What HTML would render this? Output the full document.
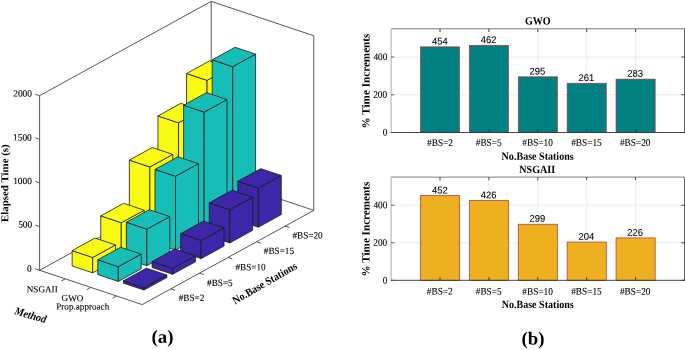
<!DOCTYPE html>
<html><head><meta charset="utf-8"><style>
html,body{margin:0;padding:0;background:#fff;}
body{width:685px;height:350px;overflow:hidden;}
svg{display:block;}
</style></head><body>
<svg width="685" height="350" viewBox="0 0 685 350" style="will-change:transform">
<rect width="685" height="350" fill="#fff"/>
<line x1="39.60" y1="270.25" x2="39.60" y2="95.65" stroke="#3a3a3a" stroke-width="0.85"/>
<line x1="211.20" y1="176.00" x2="211.20" y2="1.40" stroke="#3a3a3a" stroke-width="0.85"/>
<line x1="313.80" y1="210.35" x2="313.80" y2="35.75" stroke="#3a3a3a" stroke-width="0.85"/>
<line x1="39.60" y1="95.65" x2="211.20" y2="1.40" stroke="#3a3a3a" stroke-width="0.85"/>
<line x1="211.20" y1="1.40" x2="313.80" y2="35.75" stroke="#3a3a3a" stroke-width="0.85"/>
<line x1="39.60" y1="270.25" x2="142.20" y2="304.60" stroke="#3a3a3a" stroke-width="0.85"/>
<line x1="142.20" y1="304.60" x2="313.80" y2="210.35" stroke="#3a3a3a" stroke-width="0.85"/>
<line x1="211.20" y1="176.00" x2="313.80" y2="210.35" stroke="#3a3a3a" stroke-width="0.85"/>
<line x1="39.60" y1="270.25" x2="211.20" y2="176.00" stroke="#3a3a3a" stroke-width="0.85"/>
<line x1="39.60" y1="270.25" x2="35.24" y2="268.79" stroke="#3a3a3a" stroke-width="0.85"/>
<line x1="39.60" y1="226.60" x2="35.24" y2="225.14" stroke="#3a3a3a" stroke-width="0.85"/>
<line x1="39.60" y1="182.95" x2="35.24" y2="181.49" stroke="#3a3a3a" stroke-width="0.85"/>
<line x1="39.60" y1="139.30" x2="35.24" y2="137.84" stroke="#3a3a3a" stroke-width="0.85"/>
<line x1="39.60" y1="95.65" x2="35.24" y2="94.19" stroke="#3a3a3a" stroke-width="0.85"/>
<line x1="65.25" y1="278.84" x2="61.22" y2="281.05" stroke="#3a3a3a" stroke-width="0.85"/>
<line x1="90.90" y1="287.43" x2="86.87" y2="289.64" stroke="#3a3a3a" stroke-width="0.85"/>
<line x1="116.55" y1="296.01" x2="112.52" y2="298.23" stroke="#3a3a3a" stroke-width="0.85"/>
<line x1="170.80" y1="288.89" x2="175.16" y2="290.35" stroke="#3a3a3a" stroke-width="0.85"/>
<line x1="199.40" y1="273.18" x2="203.76" y2="274.64" stroke="#3a3a3a" stroke-width="0.85"/>
<line x1="228.00" y1="257.48" x2="232.36" y2="258.94" stroke="#3a3a3a" stroke-width="0.85"/>
<line x1="256.60" y1="241.77" x2="260.96" y2="243.23" stroke="#3a3a3a" stroke-width="0.85"/>
<line x1="285.20" y1="226.06" x2="289.56" y2="227.52" stroke="#3a3a3a" stroke-width="0.85"/>
<polygon points="186.55,203.14 207.07,210.01 207.07,80.37 186.55,73.50" fill="#f9fb15" stroke="#1a1a1a" stroke-width="0.80" stroke-linejoin="round"/>
<polygon points="207.07,210.01 229.95,197.45 229.95,67.81 207.07,80.37" fill="#f9fb15" stroke="#1a1a1a" stroke-width="0.80" stroke-linejoin="round"/>
<polygon points="186.55,73.50 207.07,80.37 229.95,67.81 209.43,60.94" fill="#f9fb15" stroke="#1a1a1a" stroke-width="0.80" stroke-linejoin="round"/>
<polygon points="212.20,211.73 232.72,218.60 232.72,66.70 212.20,59.83" fill="#17bdb7" stroke="#1a1a1a" stroke-width="0.80" stroke-linejoin="round"/>
<polygon points="232.72,218.60 255.60,206.04 255.60,54.13 232.72,66.70" fill="#17bdb7" stroke="#1a1a1a" stroke-width="0.80" stroke-linejoin="round"/>
<polygon points="212.20,59.83 232.72,66.70 255.60,54.13 235.08,47.26" fill="#17bdb7" stroke="#1a1a1a" stroke-width="0.80" stroke-linejoin="round"/>
<polygon points="157.95,218.85 178.47,225.72 178.47,122.80 157.95,115.93" fill="#f9fb15" stroke="#1a1a1a" stroke-width="0.80" stroke-linejoin="round"/>
<polygon points="178.47,225.72 201.35,213.16 201.35,110.23 178.47,122.80" fill="#f9fb15" stroke="#1a1a1a" stroke-width="0.80" stroke-linejoin="round"/>
<polygon points="157.95,115.93 178.47,122.80 201.35,110.23 180.83,103.36" fill="#f9fb15" stroke="#1a1a1a" stroke-width="0.80" stroke-linejoin="round"/>
<polygon points="237.85,220.32 258.37,227.19 258.37,188.08 237.85,181.21" fill="#3e26a8" stroke="#1a1a1a" stroke-width="0.80" stroke-linejoin="round"/>
<polygon points="258.37,227.19 281.25,214.62 281.25,175.51 258.37,188.08" fill="#3e26a8" stroke="#1a1a1a" stroke-width="0.80" stroke-linejoin="round"/>
<polygon points="237.85,181.21 258.37,188.08 281.25,175.51 260.73,168.64" fill="#3e26a8" stroke="#1a1a1a" stroke-width="0.80" stroke-linejoin="round"/>
<polygon points="183.60,227.44 204.12,234.31 204.12,112.09 183.60,105.22" fill="#17bdb7" stroke="#1a1a1a" stroke-width="0.80" stroke-linejoin="round"/>
<polygon points="204.12,234.31 227.00,221.74 227.00,99.52 204.12,112.09" fill="#17bdb7" stroke="#1a1a1a" stroke-width="0.80" stroke-linejoin="round"/>
<polygon points="183.60,105.22 204.12,112.09 227.00,99.52 206.48,92.65" fill="#17bdb7" stroke="#1a1a1a" stroke-width="0.80" stroke-linejoin="round"/>
<polygon points="129.35,234.56 149.87,241.43 149.87,166.96 129.35,160.09" fill="#f9fb15" stroke="#1a1a1a" stroke-width="0.80" stroke-linejoin="round"/>
<polygon points="149.87,241.43 172.75,228.86 172.75,154.40 149.87,166.96" fill="#f9fb15" stroke="#1a1a1a" stroke-width="0.80" stroke-linejoin="round"/>
<polygon points="129.35,160.09 149.87,166.96 172.75,154.40 152.23,147.53" fill="#f9fb15" stroke="#1a1a1a" stroke-width="0.80" stroke-linejoin="round"/>
<polygon points="209.25,236.03 229.77,242.90 229.77,209.72 209.25,202.85" fill="#3e26a8" stroke="#1a1a1a" stroke-width="0.80" stroke-linejoin="round"/>
<polygon points="229.77,242.90 252.65,230.33 252.65,197.16 229.77,209.72" fill="#3e26a8" stroke="#1a1a1a" stroke-width="0.80" stroke-linejoin="round"/>
<polygon points="209.25,202.85 229.77,209.72 252.65,197.16 232.13,190.29" fill="#3e26a8" stroke="#1a1a1a" stroke-width="0.80" stroke-linejoin="round"/>
<polygon points="155.00,243.15 175.52,250.02 175.52,176.25 155.00,169.38" fill="#17bdb7" stroke="#1a1a1a" stroke-width="0.80" stroke-linejoin="round"/>
<polygon points="175.52,250.02 198.40,237.45 198.40,163.68 175.52,176.25" fill="#17bdb7" stroke="#1a1a1a" stroke-width="0.80" stroke-linejoin="round"/>
<polygon points="155.00,169.38 175.52,176.25 198.40,163.68 177.88,156.81" fill="#17bdb7" stroke="#1a1a1a" stroke-width="0.80" stroke-linejoin="round"/>
<polygon points="100.75,250.27 121.27,257.14 121.27,222.74 100.75,215.87" fill="#f9fb15" stroke="#1a1a1a" stroke-width="0.80" stroke-linejoin="round"/>
<polygon points="121.27,257.14 144.15,244.57 144.15,210.18 121.27,222.74" fill="#f9fb15" stroke="#1a1a1a" stroke-width="0.80" stroke-linejoin="round"/>
<polygon points="100.75,215.87 121.27,222.74 144.15,210.18 123.63,203.31" fill="#f9fb15" stroke="#1a1a1a" stroke-width="0.80" stroke-linejoin="round"/>
<polygon points="180.65,251.74 201.17,258.61 201.17,240.53 180.65,233.66" fill="#3e26a8" stroke="#1a1a1a" stroke-width="0.80" stroke-linejoin="round"/>
<polygon points="201.17,258.61 224.05,246.04 224.05,227.97 201.17,240.53" fill="#3e26a8" stroke="#1a1a1a" stroke-width="0.80" stroke-linejoin="round"/>
<polygon points="180.65,233.66 201.17,240.53 224.05,227.97 203.53,221.10" fill="#3e26a8" stroke="#1a1a1a" stroke-width="0.80" stroke-linejoin="round"/>
<polygon points="126.40,258.86 146.92,265.73 146.92,229.15 126.40,222.28" fill="#17bdb7" stroke="#1a1a1a" stroke-width="0.80" stroke-linejoin="round"/>
<polygon points="146.92,265.73 169.80,253.16 169.80,216.58 146.92,229.15" fill="#17bdb7" stroke="#1a1a1a" stroke-width="0.80" stroke-linejoin="round"/>
<polygon points="126.40,222.28 146.92,229.15 169.80,216.58 149.28,209.71" fill="#17bdb7" stroke="#1a1a1a" stroke-width="0.80" stroke-linejoin="round"/>
<polygon points="72.15,265.98 92.67,272.85 92.67,257.48 72.15,250.61" fill="#f9fb15" stroke="#1a1a1a" stroke-width="0.80" stroke-linejoin="round"/>
<polygon points="92.67,272.85 115.55,260.28 115.55,244.92 92.67,257.48" fill="#f9fb15" stroke="#1a1a1a" stroke-width="0.80" stroke-linejoin="round"/>
<polygon points="72.15,250.61 92.67,257.48 115.55,244.92 95.03,238.05" fill="#f9fb15" stroke="#1a1a1a" stroke-width="0.80" stroke-linejoin="round"/>
<polygon points="152.05,267.44 172.57,274.31 172.57,268.38 152.05,261.51" fill="#3e26a8" stroke="#1a1a1a" stroke-width="0.80" stroke-linejoin="round"/>
<polygon points="172.57,274.31 195.45,261.75 195.45,255.81 172.57,268.38" fill="#3e26a8" stroke="#1a1a1a" stroke-width="0.80" stroke-linejoin="round"/>
<polygon points="152.05,261.51 172.57,268.38 195.45,255.81 174.93,248.94" fill="#3e26a8" stroke="#1a1a1a" stroke-width="0.80" stroke-linejoin="round"/>
<polygon points="97.80,274.56 118.32,281.44 118.32,266.68 97.80,259.81" fill="#17bdb7" stroke="#1a1a1a" stroke-width="0.80" stroke-linejoin="round"/>
<polygon points="118.32,281.44 141.20,268.87 141.20,254.11 118.32,266.68" fill="#17bdb7" stroke="#1a1a1a" stroke-width="0.80" stroke-linejoin="round"/>
<polygon points="97.80,259.81 118.32,266.68 141.20,254.11 120.68,247.24" fill="#17bdb7" stroke="#1a1a1a" stroke-width="0.80" stroke-linejoin="round"/>
<polygon points="123.45,283.15 143.97,290.02 143.97,287.58 123.45,280.71" fill="#3e26a8" stroke="#1a1a1a" stroke-width="0.80" stroke-linejoin="round"/>
<polygon points="143.97,290.02 166.85,277.46 166.85,275.01 143.97,287.58" fill="#3e26a8" stroke="#1a1a1a" stroke-width="0.80" stroke-linejoin="round"/>
<polygon points="123.45,280.71 143.97,287.58 166.85,275.01 146.33,268.14" fill="#3e26a8" stroke="#1a1a1a" stroke-width="0.80" stroke-linejoin="round"/>
<line x1="440.00" y1="28.80" x2="440.00" y2="132.50" stroke="#ebebeb" stroke-width="0.90"/>
<line x1="488.90" y1="28.80" x2="488.90" y2="132.50" stroke="#ebebeb" stroke-width="0.90"/>
<line x1="537.80" y1="28.80" x2="537.80" y2="132.50" stroke="#ebebeb" stroke-width="0.90"/>
<line x1="586.70" y1="28.80" x2="586.70" y2="132.50" stroke="#ebebeb" stroke-width="0.90"/>
<line x1="635.60" y1="28.80" x2="635.60" y2="132.50" stroke="#ebebeb" stroke-width="0.90"/>
<line x1="391.10" y1="94.76" x2="684.50" y2="94.76" stroke="#ebebeb" stroke-width="0.90"/>
<line x1="391.10" y1="57.02" x2="684.50" y2="57.02" stroke="#ebebeb" stroke-width="0.90"/>
<rect x="420.44" y="46.83" width="39.12" height="85.67" fill="#008080" stroke="#a8324a" stroke-width="0.7"/>
<rect x="469.34" y="45.32" width="39.12" height="87.18" fill="#008080" stroke="#a8324a" stroke-width="0.7"/>
<rect x="518.24" y="76.83" width="39.12" height="55.67" fill="#008080" stroke="#a8324a" stroke-width="0.7"/>
<rect x="567.14" y="83.25" width="39.12" height="49.25" fill="#008080" stroke="#a8324a" stroke-width="0.7"/>
<rect x="616.04" y="79.10" width="39.12" height="53.40" fill="#008080" stroke="#a8324a" stroke-width="0.7"/>
<line x1="391.10" y1="28.80" x2="684.50" y2="28.80" stroke="#6e6e6e" stroke-width="0.90"/>
<line x1="684.50" y1="28.80" x2="684.50" y2="132.50" stroke="#505050" stroke-width="0.90"/>
<line x1="391.10" y1="28.80" x2="391.10" y2="132.50" stroke="#a0a0a0" stroke-width="0.90"/>
<line x1="390.70" y1="132.50" x2="684.90" y2="132.50" stroke="#333333" stroke-width="0.90"/>
<line x1="440.00" y1="132.50" x2="440.00" y2="129.30" stroke="#333" stroke-width="0.90"/>
<line x1="440.00" y1="28.80" x2="440.00" y2="32.00" stroke="#333" stroke-width="0.90"/>
<line x1="488.90" y1="132.50" x2="488.90" y2="129.30" stroke="#333" stroke-width="0.90"/>
<line x1="488.90" y1="28.80" x2="488.90" y2="32.00" stroke="#333" stroke-width="0.90"/>
<line x1="537.80" y1="132.50" x2="537.80" y2="129.30" stroke="#333" stroke-width="0.90"/>
<line x1="537.80" y1="28.80" x2="537.80" y2="32.00" stroke="#333" stroke-width="0.90"/>
<line x1="586.70" y1="132.50" x2="586.70" y2="129.30" stroke="#333" stroke-width="0.90"/>
<line x1="586.70" y1="28.80" x2="586.70" y2="32.00" stroke="#333" stroke-width="0.90"/>
<line x1="635.60" y1="132.50" x2="635.60" y2="129.30" stroke="#333" stroke-width="0.90"/>
<line x1="635.60" y1="28.80" x2="635.60" y2="32.00" stroke="#333" stroke-width="0.90"/>
<line x1="391.10" y1="132.50" x2="394.30" y2="132.50" stroke="#555" stroke-width="0.90"/>
<line x1="684.50" y1="132.50" x2="681.30" y2="132.50" stroke="#333" stroke-width="0.90"/>
<line x1="391.10" y1="94.76" x2="394.30" y2="94.76" stroke="#555" stroke-width="0.90"/>
<line x1="684.50" y1="94.76" x2="681.30" y2="94.76" stroke="#333" stroke-width="0.90"/>
<line x1="391.10" y1="57.02" x2="394.30" y2="57.02" stroke="#555" stroke-width="0.90"/>
<line x1="684.50" y1="57.02" x2="681.30" y2="57.02" stroke="#333" stroke-width="0.90"/>
<line x1="440.00" y1="177.10" x2="440.00" y2="280.30" stroke="#ebebeb" stroke-width="0.90"/>
<line x1="488.90" y1="177.10" x2="488.90" y2="280.30" stroke="#ebebeb" stroke-width="0.90"/>
<line x1="537.80" y1="177.10" x2="537.80" y2="280.30" stroke="#ebebeb" stroke-width="0.90"/>
<line x1="586.70" y1="177.10" x2="586.70" y2="280.30" stroke="#ebebeb" stroke-width="0.90"/>
<line x1="635.60" y1="177.10" x2="635.60" y2="280.30" stroke="#ebebeb" stroke-width="0.90"/>
<line x1="391.10" y1="242.78" x2="684.50" y2="242.78" stroke="#ebebeb" stroke-width="0.90"/>
<line x1="391.10" y1="205.26" x2="684.50" y2="205.26" stroke="#ebebeb" stroke-width="0.90"/>
<rect x="420.44" y="195.50" width="39.12" height="84.80" fill="#edb120" stroke="#b82c4c" stroke-width="0.7"/>
<rect x="469.34" y="200.38" width="39.12" height="79.92" fill="#edb120" stroke="#b82c4c" stroke-width="0.7"/>
<rect x="518.24" y="224.21" width="39.12" height="56.09" fill="#edb120" stroke="#b82c4c" stroke-width="0.7"/>
<rect x="567.14" y="242.03" width="39.12" height="38.27" fill="#edb120" stroke="#b82c4c" stroke-width="0.7"/>
<rect x="616.04" y="237.90" width="39.12" height="42.40" fill="#edb120" stroke="#b82c4c" stroke-width="0.7"/>
<line x1="391.10" y1="177.10" x2="684.50" y2="177.10" stroke="#6e6e6e" stroke-width="0.90"/>
<line x1="684.50" y1="177.10" x2="684.50" y2="280.30" stroke="#505050" stroke-width="0.90"/>
<line x1="391.10" y1="177.10" x2="391.10" y2="280.30" stroke="#a0a0a0" stroke-width="0.90"/>
<line x1="390.70" y1="280.30" x2="684.90" y2="280.30" stroke="#333333" stroke-width="0.90"/>
<line x1="440.00" y1="280.30" x2="440.00" y2="277.10" stroke="#333" stroke-width="0.90"/>
<line x1="440.00" y1="177.10" x2="440.00" y2="180.30" stroke="#333" stroke-width="0.90"/>
<line x1="488.90" y1="280.30" x2="488.90" y2="277.10" stroke="#333" stroke-width="0.90"/>
<line x1="488.90" y1="177.10" x2="488.90" y2="180.30" stroke="#333" stroke-width="0.90"/>
<line x1="537.80" y1="280.30" x2="537.80" y2="277.10" stroke="#333" stroke-width="0.90"/>
<line x1="537.80" y1="177.10" x2="537.80" y2="180.30" stroke="#333" stroke-width="0.90"/>
<line x1="586.70" y1="280.30" x2="586.70" y2="277.10" stroke="#333" stroke-width="0.90"/>
<line x1="586.70" y1="177.10" x2="586.70" y2="180.30" stroke="#333" stroke-width="0.90"/>
<line x1="635.60" y1="280.30" x2="635.60" y2="277.10" stroke="#333" stroke-width="0.90"/>
<line x1="635.60" y1="177.10" x2="635.60" y2="180.30" stroke="#333" stroke-width="0.90"/>
<line x1="391.10" y1="280.30" x2="394.30" y2="280.30" stroke="#555" stroke-width="0.90"/>
<line x1="684.50" y1="280.30" x2="681.30" y2="280.30" stroke="#333" stroke-width="0.90"/>
<line x1="391.10" y1="242.78" x2="394.30" y2="242.78" stroke="#555" stroke-width="0.90"/>
<line x1="684.50" y1="242.78" x2="681.30" y2="242.78" stroke="#333" stroke-width="0.90"/>
<line x1="391.10" y1="205.26" x2="394.30" y2="205.26" stroke="#555" stroke-width="0.90"/>
<line x1="684.50" y1="205.26" x2="681.30" y2="205.26" stroke="#333" stroke-width="0.90"/>
<text transform="translate(29.37 271.57) rotate(0.05) scale(0.9994 1)" style="font-family:'Liberation Serif',serif;font-size:9.39px;fill:#000;stroke:#000;stroke-width:0.10px" text-anchor="middle">0</text>
<text transform="translate(25.17 227.41) rotate(0.05) scale(0.9994 1)" style="font-family:'Liberation Serif',serif;font-size:9.39px;fill:#000;stroke:#000;stroke-width:0.10px" text-anchor="middle">500</text>
<text transform="translate(22.52 183.95) rotate(0.05) scale(0.9994 1)" style="font-family:'Liberation Serif',serif;font-size:9.39px;fill:#000;stroke:#000;stroke-width:0.10px" text-anchor="middle">1000</text>
<text transform="translate(22.43 140.38) rotate(0.05) scale(0.9994 1)" style="font-family:'Liberation Serif',serif;font-size:9.39px;fill:#000;stroke:#000;stroke-width:0.10px" text-anchor="middle">1500</text>
<text transform="translate(22.58 96.54) rotate(0.05) scale(0.9994 1)" style="font-family:'Liberation Serif',serif;font-size:9.39px;fill:#000;stroke:#000;stroke-width:0.10px" text-anchor="middle">2000</text>
<text transform="translate(42.20 292.29) rotate(0.05) scale(1.0058 1)" style="font-family:'Liberation Serif',serif;font-size:9.10px;fill:#000;stroke:#000;stroke-width:0.10px" text-anchor="middle">NSGAII</text>
<text transform="translate(72.53 301.13) rotate(0.05) scale(1.0058 1)" style="font-family:'Liberation Serif',serif;font-size:9.10px;fill:#000;stroke:#000;stroke-width:0.10px" text-anchor="middle">GWO</text>
<text transform="translate(82.74 309.57) rotate(0.05) scale(1.0058 1)" style="font-family:'Liberation Serif',serif;font-size:9.10px;fill:#000;stroke:#000;stroke-width:0.10px" text-anchor="middle">Prop.approach</text>
<text transform="translate(191.49 300.93) rotate(0.05) scale(0.9604 1)" style="font-family:'Liberation Serif',serif;font-size:9.57px;fill:#000;stroke:#000;stroke-width:0.10px" text-anchor="middle">#BS=2</text>
<text transform="translate(219.89 285.97) rotate(0.05) scale(0.9604 1)" style="font-family:'Liberation Serif',serif;font-size:9.57px;fill:#000;stroke:#000;stroke-width:0.10px" text-anchor="middle">#BS=5</text>
<text transform="translate(250.62 270.14) rotate(0.05) scale(0.9604 1)" style="font-family:'Liberation Serif',serif;font-size:9.57px;fill:#000;stroke:#000;stroke-width:0.10px" text-anchor="middle">#BS=10</text>
<text transform="translate(278.91 254.06) rotate(0.05) scale(0.9604 1)" style="font-family:'Liberation Serif',serif;font-size:9.57px;fill:#000;stroke:#000;stroke-width:0.10px" text-anchor="middle">#BS=15</text>
<text transform="translate(307.56 238.59) rotate(0.05) scale(0.9604 1)" style="font-family:'Liberation Serif',serif;font-size:9.57px;fill:#000;stroke:#000;stroke-width:0.10px" text-anchor="middle">#BS=20</text>
<text transform="translate(8.24 183.18) rotate(-89.95) scale(1.0515 1)" style="font-family:'Liberation Serif',serif;font-weight:bold;font-size:10.40px;fill:#000" text-anchor="middle">Elapsed Time (s)</text>
<text transform="translate(29.57 318.60) rotate(16.00) scale(0.9200 1)" style="font-family:'Liberation Serif',serif;font-weight:bold;font-style:italic;font-size:11.18px;fill:#000" text-anchor="middle">Method</text>
<text transform="translate(266.47 286.23) rotate(-30.00) scale(0.9200 1)" style="font-family:'Liberation Serif',serif;font-weight:bold;font-size:11.02px;fill:#000" text-anchor="middle">No.Base Stations</text>
<text transform="translate(162.53 342.79) rotate(0.05) scale(1.0320 1)" style="font-family:'Liberation Serif',serif;font-weight:bold;font-size:18.30px;fill:#000" text-anchor="middle">(a)</text>
<text transform="translate(532.95 344.42) rotate(0.05) scale(1.0320 1)" style="font-family:'Liberation Serif',serif;font-weight:bold;font-size:18.30px;fill:#000" text-anchor="middle">(b)</text>
<text transform="translate(537.77 24.58) rotate(0.05) scale(0.9158 1)" style="font-family:'Liberation Serif',serif;font-weight:bold;font-size:11.00px;fill:#000" text-anchor="middle">GWO</text>
<text transform="translate(537.65 159.85) rotate(0.05) scale(0.9158 1)" style="font-family:'Liberation Serif',serif;font-weight:bold;font-size:11.00px;fill:#000" text-anchor="middle">No.Base Stations</text>
<text transform="translate(369.52 81.05) rotate(-89.95) scale(1.0142 1)" style="font-family:'Liberation Serif',serif;font-weight:bold;font-size:11.02px;fill:#000" text-anchor="middle">% Time Increments</text>
<text transform="translate(385.00 135.58) rotate(0.05) scale(0.9392 1)" style="font-family:'Liberation Serif',serif;font-size:9.95px;fill:#000;stroke:#000;stroke-width:0.10px" text-anchor="middle">0</text>
<text transform="translate(380.20 97.66) rotate(0.05) scale(0.9392 1)" style="font-family:'Liberation Serif',serif;font-size:9.95px;fill:#000;stroke:#000;stroke-width:0.10px" text-anchor="middle">200</text>
<text transform="translate(380.41 59.99) rotate(0.05) scale(0.9392 1)" style="font-family:'Liberation Serif',serif;font-size:9.95px;fill:#000;stroke:#000;stroke-width:0.10px" text-anchor="middle">400</text>
<text transform="translate(440.06 145.97) rotate(0.05) scale(0.9307 1)" style="font-family:'Liberation Serif',serif;font-size:9.98px;fill:#000;stroke:#000;stroke-width:0.10px" text-anchor="middle">#BS=2</text>
<text transform="translate(488.72 145.87) rotate(0.05) scale(0.9307 1)" style="font-family:'Liberation Serif',serif;font-size:9.98px;fill:#000;stroke:#000;stroke-width:0.10px" text-anchor="middle">#BS=5</text>
<text transform="translate(537.57 145.79) rotate(0.05) scale(0.9307 1)" style="font-family:'Liberation Serif',serif;font-size:9.98px;fill:#000;stroke:#000;stroke-width:0.10px" text-anchor="middle">#BS=10</text>
<text transform="translate(586.43 145.76) rotate(0.05) scale(0.9307 1)" style="font-family:'Liberation Serif',serif;font-size:9.98px;fill:#000;stroke:#000;stroke-width:0.10px" text-anchor="middle">#BS=15</text>
<text transform="translate(635.24 145.80) rotate(0.05) scale(0.9307 1)" style="font-family:'Liberation Serif',serif;font-size:9.98px;fill:#000;stroke:#000;stroke-width:0.10px" text-anchor="middle">#BS=20</text>
<text transform="translate(439.77 44.56) rotate(0.05) scale(0.9702 1)" style="font-family:'Liberation Sans',sans-serif;font-size:9.75px;fill:#000;stroke:#000;stroke-width:0.08px" text-anchor="middle">454</text>
<text transform="translate(488.68 42.93) rotate(0.05) scale(0.9702 1)" style="font-family:'Liberation Sans',sans-serif;font-size:9.75px;fill:#000;stroke:#000;stroke-width:0.08px" text-anchor="middle">462</text>
<text transform="translate(537.34 74.51) rotate(0.05) scale(0.9702 1)" style="font-family:'Liberation Sans',sans-serif;font-size:9.75px;fill:#000;stroke:#000;stroke-width:0.08px" text-anchor="middle">295</text>
<text transform="translate(586.26 80.89) rotate(0.05) scale(0.9702 1)" style="font-family:'Liberation Sans',sans-serif;font-size:9.75px;fill:#000;stroke:#000;stroke-width:0.08px" text-anchor="middle">261</text>
<text transform="translate(635.21 76.66) rotate(0.05) scale(0.9702 1)" style="font-family:'Liberation Sans',sans-serif;font-size:9.75px;fill:#000;stroke:#000;stroke-width:0.08px" text-anchor="middle">283</text>
<text transform="translate(537.24 172.97) rotate(0.05) scale(0.9158 1)" style="font-family:'Liberation Serif',serif;font-weight:bold;font-size:11.00px;fill:#000" text-anchor="middle">NSGAII</text>
<text transform="translate(537.67 308.06) rotate(0.05) scale(0.9158 1)" style="font-family:'Liberation Serif',serif;font-weight:bold;font-size:11.00px;fill:#000" text-anchor="middle">No.Base Stations</text>
<text transform="translate(369.48 229.09) rotate(-89.95) scale(1.0142 1)" style="font-family:'Liberation Serif',serif;font-weight:bold;font-size:11.02px;fill:#000" text-anchor="middle">% Time Increments</text>
<text transform="translate(385.02 283.38) rotate(0.05) scale(0.9392 1)" style="font-family:'Liberation Serif',serif;font-size:9.95px;fill:#000;stroke:#000;stroke-width:0.10px" text-anchor="middle">0</text>
<text transform="translate(380.22 245.67) rotate(0.05) scale(0.9392 1)" style="font-family:'Liberation Serif',serif;font-size:9.95px;fill:#000;stroke:#000;stroke-width:0.10px" text-anchor="middle">200</text>
<text transform="translate(380.39 208.29) rotate(0.05) scale(0.9392 1)" style="font-family:'Liberation Serif',serif;font-size:9.95px;fill:#000;stroke:#000;stroke-width:0.10px" text-anchor="middle">400</text>
<text transform="translate(439.74 294.54) rotate(0.05) scale(0.9307 1)" style="font-family:'Liberation Serif',serif;font-size:9.98px;fill:#000;stroke:#000;stroke-width:0.10px" text-anchor="middle">#BS=2</text>
<text transform="translate(488.69 294.63) rotate(0.05) scale(0.9307 1)" style="font-family:'Liberation Serif',serif;font-size:9.98px;fill:#000;stroke:#000;stroke-width:0.10px" text-anchor="middle">#BS=5</text>
<text transform="translate(537.61 294.68) rotate(0.05) scale(0.9307 1)" style="font-family:'Liberation Serif',serif;font-size:9.98px;fill:#000;stroke:#000;stroke-width:0.10px" text-anchor="middle">#BS=10</text>
<text transform="translate(586.47 294.52) rotate(0.05) scale(0.9307 1)" style="font-family:'Liberation Serif',serif;font-size:9.98px;fill:#000;stroke:#000;stroke-width:0.10px" text-anchor="middle">#BS=15</text>
<text transform="translate(635.24 294.63) rotate(0.05) scale(0.9307 1)" style="font-family:'Liberation Serif',serif;font-size:9.98px;fill:#000;stroke:#000;stroke-width:0.10px" text-anchor="middle">#BS=20</text>
<text transform="translate(439.77 193.40) rotate(0.05) scale(0.9702 1)" style="font-family:'Liberation Sans',sans-serif;font-size:9.75px;fill:#000;stroke:#000;stroke-width:0.08px" text-anchor="middle">452</text>
<text transform="translate(488.56 198.18) rotate(0.05) scale(0.9702 1)" style="font-family:'Liberation Sans',sans-serif;font-size:9.75px;fill:#000;stroke:#000;stroke-width:0.08px" text-anchor="middle">426</text>
<text transform="translate(537.45 221.82) rotate(0.05) scale(0.9702 1)" style="font-family:'Liberation Sans',sans-serif;font-size:9.75px;fill:#000;stroke:#000;stroke-width:0.08px" text-anchor="middle">299</text>
<text transform="translate(586.26 239.77) rotate(0.05) scale(0.9702 1)" style="font-family:'Liberation Sans',sans-serif;font-size:9.75px;fill:#000;stroke:#000;stroke-width:0.08px" text-anchor="middle">204</text>
<text transform="translate(635.16 235.68) rotate(0.05) scale(0.9702 1)" style="font-family:'Liberation Sans',sans-serif;font-size:9.75px;fill:#000;stroke:#000;stroke-width:0.08px" text-anchor="middle">226</text>
</svg>
</body></html>
